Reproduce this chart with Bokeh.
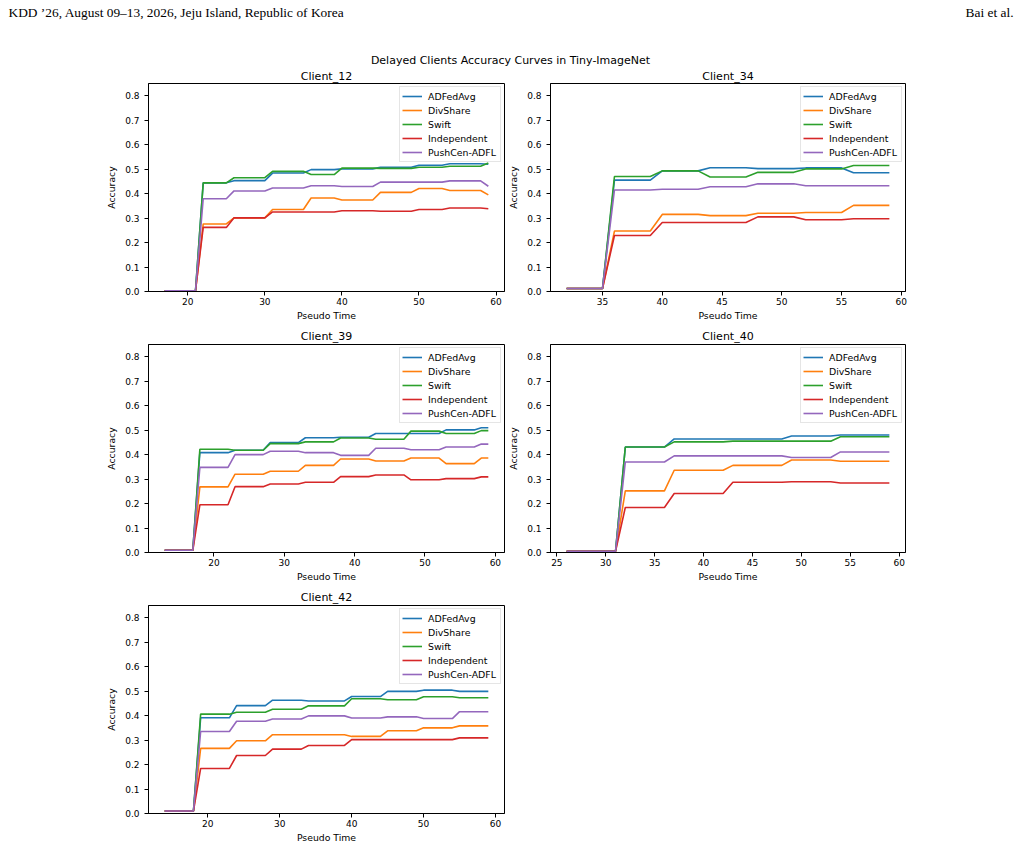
from bokeh.plotting import figure
from bokeh.models import Range1d, FixedTicker, Legend, LegendItem, Label, PrintfTickFormatter
from bokeh.layouts import column, row
from bokeh.embed import file_html
from bokeh.resources import INLINE

# ---------------------------------------------------------------- data
METHODS = ["ADFedAvg", "DivShare", "Swift", "Independent", "PushCen-ADFL"]
COLORS = ["#1f77b4", "#ff7f0e", "#2ca02c", "#d62728", "#9467bd"]

Y_TICKS = [0.0, 0.1, 0.2, 0.3, 0.4, 0.5, 0.6, 0.7, 0.8]

HEADER_LEFT = "KDD \u201926, August 09\u201313, 2026, Jeju Island, Republic of Korea"
HEADER_RIGHT = "Bai et al."
SUPTITLE = "Delayed Clients Accuracy Curves in Tiny-ImageNet"

# Client_12
c12_title = "Client_12"
c12_time = list(range(17, 60))
c12_xticks = [20, 30, 40, 50, 60]
c12_adfedavg = [0.003, 0.003, 0.003, 0.003, 0.003,
                0.444, 0.444, 0.444, 0.444,
                0.453, 0.453, 0.453, 0.453, 0.453,
                0.484, 0.484, 0.484, 0.484, 0.484,
                0.498, 0.498, 0.498, 0.498,
                0.501, 0.501, 0.501, 0.501, 0.501,
                0.508, 0.508, 0.508, 0.508, 0.508,
                0.516, 0.516, 0.516, 0.516,
                0.522, 0.522, 0.522, 0.522, 0.522,
                0.520]
c12_divshare = [0.003, 0.003, 0.003, 0.003, 0.003,
                0.276, 0.276, 0.276, 0.276,
                0.301, 0.301, 0.301, 0.301, 0.301,
                0.335, 0.335, 0.335, 0.335, 0.335,
                0.382, 0.382, 0.382, 0.382,
                0.374, 0.374, 0.374, 0.374, 0.374,
                0.405, 0.405, 0.405, 0.405, 0.405,
                0.421, 0.421, 0.421, 0.421,
                0.413, 0.413, 0.413, 0.413, 0.413,
                0.395]
c12_swift = [0.003, 0.003, 0.003, 0.003, 0.003,
             0.444, 0.444, 0.444, 0.444,
             0.465, 0.465, 0.465, 0.465, 0.465,
             0.491, 0.491, 0.491, 0.491, 0.491,
             0.478, 0.478, 0.478, 0.478,
             0.504, 0.504, 0.504, 0.504, 0.504,
             0.503, 0.503, 0.503, 0.503, 0.503,
             0.508, 0.508, 0.508, 0.508,
             0.512, 0.512, 0.512, 0.512, 0.512,
             0.525]
c12_independent = [0.003, 0.003, 0.003, 0.003, 0.003,
                   0.262, 0.262, 0.262, 0.262,
                   0.301, 0.301, 0.301, 0.301, 0.301,
                   0.325, 0.325, 0.325, 0.325, 0.325,
                   0.325, 0.325, 0.325, 0.325,
                   0.330, 0.330, 0.330, 0.330, 0.330,
                   0.328, 0.328, 0.328, 0.328, 0.328,
                   0.335, 0.335, 0.335, 0.335,
                   0.341, 0.341, 0.341, 0.341, 0.341,
                   0.338]
c12_pushcen = [0.003, 0.003, 0.003, 0.003, 0.003,
               0.379, 0.379, 0.379, 0.379,
               0.411, 0.411, 0.411, 0.411, 0.411,
               0.423, 0.423, 0.423, 0.423, 0.423,
               0.432, 0.432, 0.432, 0.432,
               0.429, 0.429, 0.429, 0.429, 0.429,
               0.447, 0.447, 0.447, 0.447, 0.447,
               0.447, 0.447, 0.447, 0.447,
               0.452, 0.452, 0.452, 0.452, 0.452,
               0.430]

# Client_34
c34_title = "Client_34"
c34_time = list(range(32, 60))
c34_xticks = [35, 40, 45, 50, 55, 60]
c34_adfedavg = [0.012, 0.012, 0.012, 0.012,
                0.455, 0.455, 0.455, 0.455,
                0.493, 0.493, 0.493, 0.493,
                0.506, 0.506, 0.506, 0.506,
                0.502, 0.502, 0.502, 0.502,
                0.505, 0.505, 0.505, 0.505,
                0.485, 0.485, 0.485, 0.485]
c34_divshare = [0.012, 0.012, 0.012, 0.012,
                0.247, 0.247, 0.247, 0.247,
                0.315, 0.315, 0.315, 0.315,
                0.310, 0.310, 0.310, 0.310,
                0.320, 0.320, 0.320, 0.320,
                0.323, 0.323, 0.323, 0.323,
                0.352, 0.352, 0.352, 0.352]
c34_swift = [0.012, 0.012, 0.012, 0.012,
             0.470, 0.470, 0.470, 0.470,
             0.493, 0.493, 0.493, 0.493,
             0.468, 0.468, 0.468, 0.468,
             0.487, 0.487, 0.487, 0.487,
             0.501, 0.501, 0.501, 0.501,
             0.515, 0.515, 0.515, 0.515]
c34_independent = [0.012, 0.012, 0.012, 0.012,
                   0.229, 0.229, 0.229, 0.229,
                   0.282, 0.282, 0.282, 0.282,
                   0.282, 0.282, 0.282, 0.282,
                   0.305, 0.305, 0.305, 0.305,
                   0.293, 0.293, 0.293, 0.293,
                   0.297, 0.297, 0.297, 0.297]
c34_pushcen = [0.012, 0.012, 0.012, 0.012,
               0.415, 0.415, 0.415, 0.415,
               0.418, 0.418, 0.418, 0.418,
               0.428, 0.428, 0.428, 0.428,
               0.440, 0.440, 0.440, 0.440,
               0.432, 0.432, 0.432, 0.432,
               0.432, 0.432, 0.432, 0.432]

# Client_39
c39_title = "Client_39"
c39_time = list(range(13, 60))
c39_xticks = [20, 30, 40, 50, 60]
c39_adfedavg = [0.009, 0.009, 0.009, 0.009, 0.009,
                0.408, 0.408, 0.408, 0.408, 0.408,
                0.418, 0.418, 0.418, 0.418, 0.418,
                0.449, 0.449, 0.449, 0.449, 0.449,
                0.469, 0.469, 0.469, 0.469, 0.469,
                0.471, 0.471, 0.471, 0.471, 0.471,
                0.486, 0.486, 0.486, 0.486, 0.486,
                0.486, 0.486, 0.486, 0.486, 0.486,
                0.501, 0.501, 0.501, 0.501, 0.501,
                0.510, 0.510]
c39_divshare = [0.009, 0.009, 0.009, 0.009, 0.009,
                0.268, 0.268, 0.268, 0.268, 0.268,
                0.320, 0.320, 0.320, 0.320, 0.320,
                0.332, 0.332, 0.332, 0.332, 0.332,
                0.356, 0.356, 0.356, 0.356, 0.356,
                0.382, 0.382, 0.382, 0.382, 0.382,
                0.374, 0.374, 0.374, 0.374, 0.374,
                0.386, 0.386, 0.386, 0.386, 0.386,
                0.363, 0.363, 0.363, 0.363, 0.363,
                0.386, 0.386]
c39_swift = [0.009, 0.009, 0.009, 0.009, 0.009,
             0.422, 0.422, 0.422, 0.422, 0.422,
             0.418, 0.418, 0.418, 0.418, 0.418,
             0.445, 0.445, 0.445, 0.445, 0.445,
             0.452, 0.452, 0.452, 0.452, 0.452,
             0.468, 0.468, 0.468, 0.468, 0.468,
             0.463, 0.463, 0.463, 0.463, 0.463,
             0.496, 0.496, 0.496, 0.496, 0.496,
             0.486, 0.486, 0.486, 0.486, 0.486,
             0.498, 0.498]
c39_independent = [0.009, 0.009, 0.009, 0.009, 0.009,
                   0.195, 0.195, 0.195, 0.195, 0.195,
                   0.269, 0.269, 0.269, 0.269, 0.269,
                   0.280, 0.280, 0.280, 0.280, 0.280,
                   0.287, 0.287, 0.287, 0.287, 0.287,
                   0.310, 0.310, 0.310, 0.310, 0.310,
                   0.317, 0.317, 0.317, 0.317, 0.317,
                   0.297, 0.297, 0.297, 0.297, 0.297,
                   0.302, 0.302, 0.302, 0.302, 0.302,
                   0.309, 0.309]
c39_pushcen = [0.009, 0.009, 0.009, 0.009, 0.009,
               0.348, 0.348, 0.348, 0.348, 0.348,
               0.400, 0.400, 0.400, 0.400, 0.400,
               0.414, 0.414, 0.414, 0.414, 0.414,
               0.408, 0.408, 0.408, 0.408, 0.408,
               0.397, 0.397, 0.397, 0.397, 0.397,
               0.426, 0.426, 0.426, 0.426, 0.426,
               0.420, 0.420, 0.420, 0.420, 0.420,
               0.431, 0.431, 0.431, 0.431, 0.431,
               0.443, 0.443]

# Client_40
c40_title = "Client_40"
c40_time = list(range(26, 60))
c40_xticks = [25, 30, 35, 40, 45, 50, 55, 60]
c40_adfedavg = [0.005, 0.005, 0.005, 0.005, 0.005, 0.005,
                0.431, 0.431, 0.431, 0.431, 0.431,
                0.464, 0.464, 0.464, 0.464, 0.464, 0.464,
                0.464, 0.464, 0.464, 0.464, 0.464, 0.464,
                0.476, 0.476, 0.476, 0.476, 0.476,
                0.480, 0.480, 0.480, 0.480, 0.480, 0.480]
c40_divshare = [0.005, 0.005, 0.005, 0.005, 0.005, 0.005,
                0.252, 0.252, 0.252, 0.252, 0.252,
                0.336, 0.336, 0.336, 0.336, 0.336, 0.336,
                0.356, 0.356, 0.356, 0.356, 0.356, 0.356,
                0.378, 0.378, 0.378, 0.378, 0.378,
                0.373, 0.373, 0.373, 0.373, 0.373, 0.373]
c40_swift = [0.005, 0.005, 0.005, 0.005, 0.005, 0.005,
             0.431, 0.431, 0.431, 0.431, 0.431,
             0.452, 0.452, 0.452, 0.452, 0.452, 0.452,
             0.455, 0.455, 0.455, 0.455, 0.455, 0.455,
             0.455, 0.455, 0.455, 0.455, 0.455,
             0.473, 0.473, 0.473, 0.473, 0.473, 0.473]
c40_independent = [0.005, 0.005, 0.005, 0.005, 0.005, 0.005,
                   0.184, 0.184, 0.184, 0.184, 0.184,
                   0.241, 0.241, 0.241, 0.241, 0.241, 0.241,
                   0.287, 0.287, 0.287, 0.287, 0.287, 0.287,
                   0.289, 0.289, 0.289, 0.289, 0.289,
                   0.284, 0.284, 0.284, 0.284, 0.284, 0.284]
c40_pushcen = [0.005, 0.005, 0.005, 0.005, 0.005, 0.005,
               0.370, 0.370, 0.370, 0.370, 0.370,
               0.395, 0.395, 0.395, 0.395, 0.395, 0.395,
               0.395, 0.395, 0.395, 0.395, 0.395, 0.395,
               0.388, 0.388, 0.388, 0.388, 0.388,
               0.411, 0.411, 0.411, 0.411, 0.411, 0.411]

# Client_42
c42_title = "Client_42"
c42_time = list(range(14, 60))
c42_xticks = [20, 30, 40, 50, 60]
c42_adfedavg = [0.010, 0.010, 0.010, 0.010, 0.010,
                0.391, 0.391, 0.391, 0.391, 0.391,
                0.441, 0.441, 0.441, 0.441, 0.441,
                0.463, 0.463, 0.463, 0.463, 0.463,
                0.460, 0.460, 0.460, 0.460, 0.460, 0.460,
                0.478, 0.478, 0.478, 0.478, 0.478,
                0.499, 0.499, 0.499, 0.499, 0.499,
                0.504, 0.504, 0.504, 0.504, 0.504,
                0.499, 0.499, 0.499, 0.499, 0.499]
c42_divshare = [0.010, 0.010, 0.010, 0.010, 0.010,
                0.266, 0.266, 0.266, 0.266, 0.266,
                0.297, 0.297, 0.297, 0.297, 0.297,
                0.322, 0.322, 0.322, 0.322, 0.322,
                0.322, 0.322, 0.322, 0.322, 0.322, 0.322,
                0.315, 0.315, 0.315, 0.315, 0.315,
                0.338, 0.338, 0.338, 0.338, 0.338,
                0.350, 0.350, 0.350, 0.350, 0.350,
                0.358, 0.358, 0.358, 0.358, 0.358]
c42_swift = [0.010, 0.010, 0.010, 0.010, 0.010,
             0.406, 0.406, 0.406, 0.406, 0.406,
             0.414, 0.414, 0.414, 0.414, 0.414,
             0.426, 0.426, 0.426, 0.426, 0.426,
             0.440, 0.440, 0.440, 0.440, 0.440, 0.440,
             0.469, 0.469, 0.469, 0.469, 0.469,
             0.465, 0.465, 0.465, 0.465, 0.465,
             0.477, 0.477, 0.477, 0.477, 0.477,
             0.473, 0.473, 0.473, 0.473, 0.473]
c42_independent = [0.010, 0.010, 0.010, 0.010, 0.010,
                   0.184, 0.184, 0.184, 0.184, 0.184,
                   0.237, 0.237, 0.237, 0.237, 0.237,
                   0.263, 0.263, 0.263, 0.263, 0.263,
                   0.278, 0.278, 0.278, 0.278, 0.278, 0.278,
                   0.302, 0.302, 0.302, 0.302, 0.302,
                   0.302, 0.302, 0.302, 0.302, 0.302,
                   0.302, 0.302, 0.302, 0.302, 0.302,
                   0.309, 0.309, 0.309, 0.309, 0.309]
c42_pushcen = [0.010, 0.010, 0.010, 0.010, 0.010,
               0.335, 0.335, 0.335, 0.335, 0.335,
               0.377, 0.377, 0.377, 0.377, 0.377,
               0.386, 0.386, 0.386, 0.386, 0.386,
               0.399, 0.399, 0.399, 0.399, 0.399, 0.399,
               0.390, 0.390, 0.390, 0.390, 0.390,
               0.395, 0.395, 0.395, 0.395, 0.395,
               0.388, 0.388, 0.388, 0.388, 0.388,
               0.416, 0.416, 0.416, 0.416, 0.416]

# ---------------------------------------------------------------- styling
FONT = "DejaVu Sans"
FRAME_H = 208


def make_panel(title, time, series, xticks, frame_w, border_left, border_right,
               border_top, title_standoff):
    pad = 0.05 * (time[-1] - time[0])
    p = figure(
        frame_width=frame_w, frame_height=FRAME_H,
        x_range=Range1d(time[0] - pad, time[-1] + pad),
        y_range=Range1d(0.0, 0.85),
        output_backend="svg", toolbar_location=None,
        min_border_left=border_left, min_border_right=border_right,
        min_border_top=border_top, min_border_bottom=32,
        title=title,
    )
    p.grid.visible = False
    p.outline_line_color = "black"
    p.outline_line_width = 1
    p.background_fill_color = "white"
    p.border_fill_color = "white"

    p.title.text_font = FONT
    p.title.text_font_size = "11px"
    p.title.text_font_style = "normal"
    p.title.text_color = "black"
    p.title.align = "center"
    p.title.standoff = title_standoff

    p.xaxis.ticker = FixedTicker(ticks=xticks)
    p.yaxis.ticker = FixedTicker(ticks=Y_TICKS)
    p.yaxis.formatter = PrintfTickFormatter(format="%.1f")
    p.xaxis.axis_label = "Pseudo Time"
    p.yaxis.axis_label = "Accuracy"
    for ax in p.axis:
        ax.axis_line_color = "black"
        ax.major_tick_line_color = "black"
        ax.minor_tick_line_color = None
        ax.major_tick_out = 4
        ax.major_tick_in = 0
        ax.major_label_text_font = FONT
        ax.major_label_text_font_size = "9px"
        ax.major_label_text_color = "black"
        ax.axis_label_text_font = FONT
        ax.axis_label_text_font_size = "9.3px"
        ax.axis_label_text_font_style = "normal"
        ax.axis_label_text_color = "black"
    p.xaxis.major_label_standoff = 2
    p.xaxis.axis_label_standoff = 2
    p.yaxis.major_label_standoff = 5
    p.yaxis.axis_label_standoff = 5

    items = []
    for name, color, ys in zip(METHODS, COLORS, series):
        r = p.line(time, ys, line_color=color, line_width=1.6)
        items.append(LegendItem(label=name, renderers=[r]))

    legend = Legend(
        items=items, location="top_right",
        label_text_font=FONT, label_text_font_size="9.4px", label_text_color="black",
        glyph_width=20, glyph_height=14, label_height=14, label_width=70,
        label_standoff=6, spacing=0, padding=2, margin=3,
        border_line_color="#cccccc", border_line_width=1,
        background_fill_color="white", background_fill_alpha=0.8,
    )
    p.add_layout(legend)
    return p


# ---------------------------------------------------------------- header
HEAD_H = 66
head = figure(
    width=1020, height=HEAD_H,
    x_range=Range1d(0, 1020), y_range=Range1d(0, HEAD_H),
    output_backend="svg", toolbar_location=None,
    x_axis_location=None, y_axis_location=None,
    min_border=0,
)
head.grid.visible = False
head.outline_line_color = None
head.add_layout(Label(x=8, y=HEAD_H - 12, text=HEADER_LEFT, text_baseline="middle",
                      text_font="Liberation Serif", text_font_size="13.4px",
                      text_color="black"))
head.add_layout(Label(x=1013, y=HEAD_H - 12, text=HEADER_RIGHT, text_baseline="middle",
                      text_align="right", text_font="Liberation Serif",
                      text_font_size="13.4px", text_color="black"))
head.add_layout(Label(x=510, y=HEAD_H - 60, text=SUPTITLE, text_baseline="middle",
                      text_align="center", text_font=FONT, text_font_size="11px",
                      text_color="black"))

# ---------------------------------------------------------------- panels
p12 = make_panel(c12_title, c12_time,
                 [c12_adfedavg, c12_divshare, c12_swift, c12_independent, c12_pushcen],
                 c12_xticks, 356, 148, 1, 17, 2)
p34 = make_panel(c34_title, c34_time,
                 [c34_adfedavg, c34_divshare, c34_swift, c34_independent, c34_pushcen],
                 c34_xticks, 355, 44, 116, 17, 2)
p39 = make_panel(c39_title, c39_time,
                 [c39_adfedavg, c39_divshare, c39_swift, c39_independent, c39_pushcen],
                 c39_xticks, 356, 148, 1, 21, 3)
p40 = make_panel(c40_title, c40_time,
                 [c40_adfedavg, c40_divshare, c40_swift, c40_independent, c40_pushcen],
                 c40_xticks, 355, 44, 116, 21, 3)
p42 = make_panel(c42_title, c42_time,
                 [c42_adfedavg, c42_divshare, c42_swift, c42_independent, c42_pushcen],
                 c42_xticks, 356, 148, 1, 21, 3)

page = column(head, row(p12, p34), row(p39, p40), row(p42))

open("out.html", "w").write(file_html(page, INLINE))
